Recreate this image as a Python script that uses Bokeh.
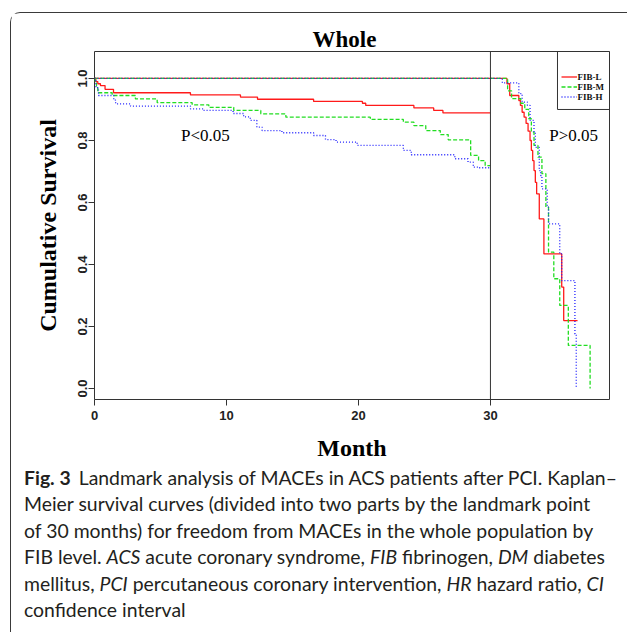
from bokeh.plotting import figure
from bokeh.models import Label, Span, BoxAnnotation, Legend, LegendItem, FixedTicker, Div
from bokeh.layouts import column
from bokeh.embed import file_html
from bokeh.resources import INLINE

# ---------------- data ----------------
groups = ["FIB-L", "FIB-M", "FIB-H"]
colors = ["#ff1a1a", "#22dd22", "#1f1fff"]
dashes = ["solid", "4 2", "1 2"]

# part 1: 0-30 months
fibl_t1 = [0, 0.1, 0.25, 0.45, 0.8, 1.44, 7.27, 11.06, 12.35, 16.6, 20.3, 20.55, 24.2, 25.7, 26.4, 30]
fibl_s1 = [1.0, 0.99, 0.983, 0.977, 0.965, 0.954, 0.947, 0.940, 0.933, 0.926, 0.920, 0.913, 0.905, 0.897, 0.889, 0.889]
fibm_t1 = [0, 0.05, 0.15, 0.25, 1.34, 3.1, 4.75, 7.4, 8.66, 10.55, 12.6, 14.5, 20.9, 23.4, 24.2, 25.1, 26.2, 26.8, 28.5, 29.1, 29.6, 30]
fibm_s1 = [1.0, 0.985, 0.97, 0.954, 0.945, 0.934, 0.922, 0.915, 0.907, 0.897, 0.886, 0.875, 0.868, 0.859, 0.848, 0.832, 0.819, 0.802, 0.752, 0.735, 0.719, 0.719]
fibh_t1 = [0, 0.1, 0.3, 1.46, 1.6, 2.73, 7.27, 8.26, 10.5, 11.3, 11.8, 12.3, 12.7, 14.2, 16.6, 17.5, 18.3, 19.9, 23.4, 24.0, 27.3, 28.3, 28.7, 29.1, 30]
fibh_s1 = [1.0, 0.97, 0.945, 0.93, 0.918, 0.911, 0.902, 0.897, 0.887, 0.876, 0.865, 0.843, 0.832, 0.825, 0.816, 0.803, 0.795, 0.784, 0.768, 0.754, 0.741, 0.73, 0.714, 0.712, 0.712]

# part 2: after the 30-month landmark
fibl_t2 = [0, 31.25, 31.46, 32.15, 32.27, 32.4, 32.55, 32.7, 32.85, 33.0, 33.1, 33.2, 33.3, 33.4, 33.5, 33.7, 34.05, 35.4, 35.55, 36.6]
fibl_s2 = [1.0, 0.983, 0.945, 0.929, 0.913, 0.891, 0.875, 0.855, 0.83, 0.80, 0.768, 0.735, 0.703, 0.665, 0.628, 0.547, 0.434, 0.327, 0.219, 0.219]
fibm_t2 = [0, 31.3, 31.6, 32.3, 32.6, 32.9, 33.1, 33.3, 33.6, 33.9, 34.2, 34.4, 34.8, 35.25, 35.9, 37.55]
fibm_s2 = [1.0, 0.96, 0.935, 0.92, 0.90, 0.87, 0.827, 0.784, 0.746, 0.693, 0.585, 0.44, 0.354, 0.268, 0.139, 0.0]
fibh_t2 = [0, 30.9, 32.15, 32.4, 32.8, 33.0, 33.3, 33.4, 33.7, 33.8, 33.9, 34.3, 34.4, 35.25, 35.4, 36.4, 36.5]
fibh_s2 = [1.0, 0.986, 0.951, 0.924, 0.913, 0.865, 0.827, 0.778, 0.703, 0.687, 0.644, 0.585, 0.531, 0.434, 0.348, 0.176, 0.0]

x_ticks = [0, 10, 20, 30]
y_ticks = [0.0, 0.2, 0.4, 0.6, 0.8, 1.0]
y_tick_labels = ["0.0", "0.2", "0.4", "0.6", "0.8", "1.0"]
landmark_month = 30
p_texts = ["P<0.05", "P>0.05"]
p_text_pos = [(8.4, 0.816), (36.3, 0.816)]

title_text = "Whole"
x_label = "Month"
y_label = "Cumulative Survival"

caption_html = (
    "<b>Fig.&nbsp;3</b><span style='display:inline-block;width:8px'></span>"
    "Landmark analysis of MACEs in ACS patients after PCI. Kaplan\u2013<br>"
    "Meier survival curves (divided into two parts by the landmark point<br>"
    "of 30 months) for freedom from MACEs in the whole population by<br>"
    "FIB level. <i>ACS</i> acute coronary syndrome, <i>FIB</i> fibrinogen, <i>DM</i> diabetes<br>"
    "mellitus, <i>PCI</i> percutaneous coronary intervention, <i>HR</i> hazard ratio, <i>CI</i><br>"
    "confidence interval"
)

# ---------------- layout ----------------
OX, OY = 11, 13                     # figure origin in the page (frame margin + border)
FIG_W, FIG_H = 615, 452
FL, FR, FT, FB = 94 - OX, 609 - OX, 51 - OY, 399 - OY   # plot box inside figure

SERIF = "Liberation Serif"
SANS = "Liberation Sans"

p = figure(width=FIG_W, height=FIG_H, x_range=(0, 39.02), y_range=(-0.0355, 1.087),
           output_backend="svg", toolbar_location=None,
           min_border_left=FL, min_border_right=FIG_W - FR,
           min_border_top=FT, min_border_bottom=FIG_H - FB)
p.background_fill_color = "white"
p.border_fill_color = "white"
p.outline_line_color = "#333333"
p.outline_line_width = 1
p.grid.visible = False

p.title.text = title_text
p.title.align = "left"
p.title.offset = 301 - FL
p.title.standoff = 0
p.title.text_font = SERIF
p.title.text_font_style = "bold"
p.title.text_font_size = "23px"
p.title.text_color = "black"

for ax in (p.xaxis[0], p.yaxis[0]):
    ax.axis_line_color = None
    ax.major_tick_in = 0
    ax.major_tick_out = 6
    ax.major_tick_line_color = "#333333"
    ax.minor_tick_line_color = None
    ax.major_label_text_font = SANS
    ax.major_label_text_font_style = "bold"
    ax.major_label_text_font_size = "13px"
    ax.major_label_text_color = "#222222"
    ax.axis_label_text_font = SERIF
    ax.axis_label_text_font_style = "bold"
    ax.axis_label_text_font_size = "24px"
    ax.axis_label_text_color = "black"

p.xaxis.ticker = FixedTicker(ticks=x_ticks)
p.yaxis.ticker = FixedTicker(ticks=y_ticks)
p.yaxis.major_label_overrides = {t: l for t, l in zip(y_ticks, y_tick_labels)}
p.yaxis.major_label_orientation = "vertical"
p.xaxis.axis_label = x_label
p.yaxis.axis_label = y_label
p.xaxis.major_label_standoff = 5
p.xaxis.axis_label_standoff = 12
p.yaxis.major_label_standoff = 1
p.yaxis.axis_label_standoff = 15

part1 = [(fibl_t1, fibl_s1), (fibm_t1, fibm_s1), (fibh_t1, fibh_s1)]
part2 = [(fibl_t2, fibl_s2), (fibm_t2, fibm_s2), (fibh_t2, fibh_s2)]

legend_renderers = []
for (t, s), c, d in zip(part2, colors, dashes):
    r = p.step(t, s, mode="after", line_color=c, line_dash=d, line_width=1.3)
    legend_renderers.append(r)
for (t, s), c, d in zip(part1, colors, dashes):
    p.step(t, s, mode="after", line_color=c, line_dash=d, line_width=1.3)

p.add_layout(Span(location=landmark_month, dimension="height", line_color="#333333", line_width=1))

for txt, (tx, ty) in zip(p_texts, p_text_pos):
    p.add_layout(Label(x=tx, y=ty, text=txt, text_font=SERIF, text_font_size="17px",
                       text_align="center", text_baseline="middle", text_color="black"))

# legend box + legend entries
p.add_layout(BoxAnnotation(left=35.08, bottom=0.9, fill_color=None, fill_alpha=0,
                           line_color="#333333", line_alpha=1, line_width=1))
leg_left = 560.5 - OX - FL
leg_bottom = FB - (101.5 - OY)
legend = Legend(items=[LegendItem(label=g, renderers=[r]) for g, r in zip(groups, legend_renderers)],
                location=(leg_left, leg_bottom), orientation="vertical",
                padding=2, spacing=-2, margin=0, label_height=9, glyph_height=9, glyph_width=16,
                label_standoff=1, border_line_color=None, background_fill_alpha=0,
                label_text_font=SERIF, label_text_font_style="bold", label_text_font_size="9px",
                label_text_line_height=1.0, label_text_color="#111111")
p.add_layout(legend)

cap = Div(text="<div style=\"font-family:Lato;font-size:19.4px;line-height:26.4px;color:#231f20;"
               "padding-left:8px;margin-top:-5px;white-space:nowrap;\">" + caption_html + "</div>",
          width=FIG_W, height=632 - OY - FIG_H - 2)

lay = column(p, cap, margin=(OY - 1, 0, 0, OX - 1),
             styles={"border-top": "1px solid #3a3a3a", "border-left": "1px solid #3a3a3a",
                     "border-top-left-radius": "10px"})

open("out.html", "w").write(file_html(lay, INLINE))
